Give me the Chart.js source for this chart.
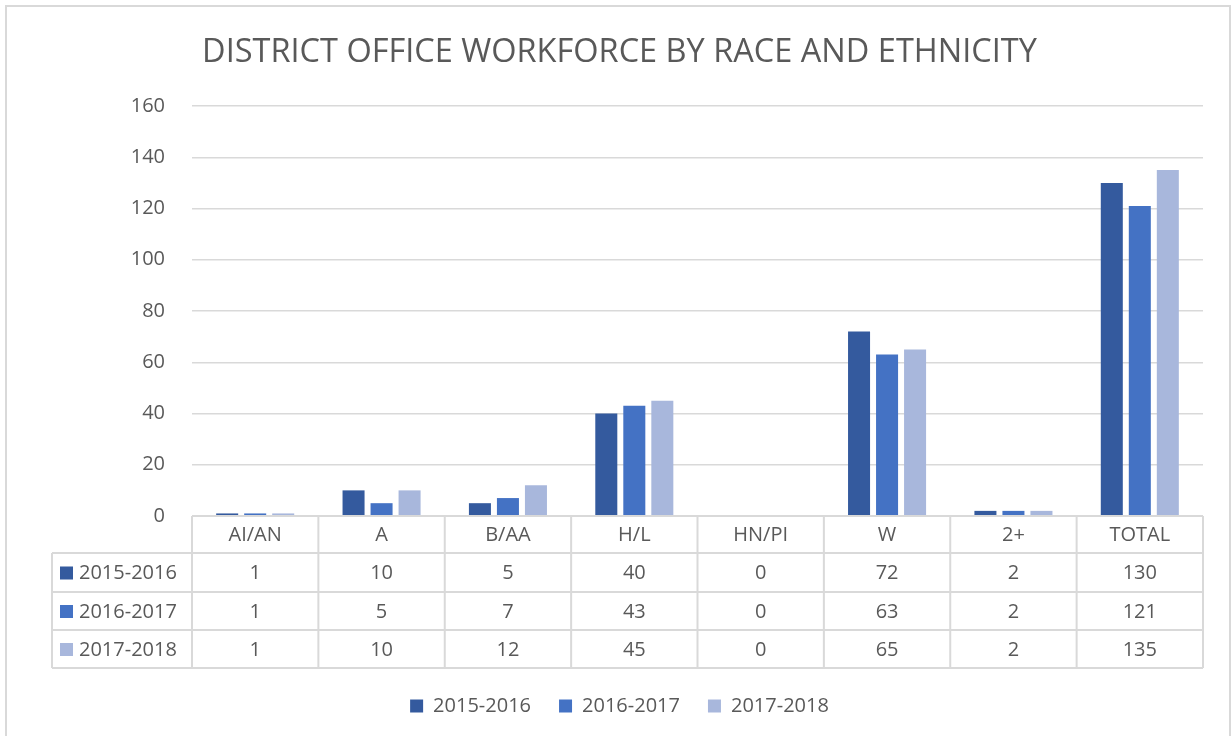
<!DOCTYPE html>
<html lang="en">
<head>
  <meta charset="UTF-8" />
  <title>District Office Workforce</title>
  <script src="https://cdn.jsdelivr.net/npm/chart.js"></script>
  <style>
    body {
      margin: 0;
      background: #ffffff;
      font-family: "Open Sans", sans-serif;
    }

    .marco {
      position: absolute;
      left: 5px;
      top: 5px;
      width: 1226px;
      height: 760px;
      border: 2px solid #d9d9d9;
      box-sizing: border-box;
    }

    #grafica {
      position: absolute;
      left: 0;
      top: 0;
    }
  </style>
</head>
<body>
  <div class="marco"></div>
  <canvas id="grafica" width="1232" height="736"></canvas>
<script>
  const categorias = ['AI/AN', 'A', 'B/AA', 'H/L', 'HN/PI', 'W', '2+', 'TOTAL'];
  const series = ['2015-2016', '2016-2017', '2017-2018'];
  const datos2015 = [1, 10, 5, 40, 0, 72, 2, 130];
  const datos2016 = [1, 5, 7, 43, 0, 63, 2, 121];
  const datos2017 = [1, 10, 12, 45, 0, 65, 2, 135];
  const colores = ['#345a9e', '#4472c4', '#a8b7dc'];

  const gris = '#595959';
  const linea = '#d9d9d9';
  const fuente = '"Open Sans", sans-serif';

  // Tabla de datos debajo del eje (como en Excel)
  const tablaDatos = {
    id: 'tablaDatos',
    afterDraw(chart) {
      const ctx = chart.ctx;
      const xs = chart.scales.x;
      const area = chart.chartArea;
      const n = categorias.length;
      const cw = (xs.right - xs.left) / n;
      const top = area.bottom;
      const filas = [top, top + 37, top + 76, top + 114, top + 152];
      const izq = 52;
      const der = xs.right;
      const bordes = [];
      for (let i = 0; i < n; i++) bordes.push(xs.getPixelForValue(i) - cw / 2);
      bordes.push(der);

      ctx.save();
      ctx.strokeStyle = linea;
      ctx.lineWidth = 2;
      ctx.beginPath();
      ctx.moveTo(bordes[0], filas[0]);
      ctx.lineTo(der, filas[0]);
      for (let r = 1; r < filas.length; r++) {
        ctx.moveTo(izq, filas[r]);
        ctx.lineTo(der, filas[r]);
      }
      ctx.moveTo(izq, filas[1]);
      ctx.lineTo(izq, filas[4]);
      bordes.forEach(b => {
        ctx.moveTo(b, filas[0]);
        ctx.lineTo(b, filas[4]);
      });
      ctx.stroke();

      ctx.fillStyle = gris;
      ctx.font = '20px ' + fuente;
      ctx.textBaseline = 'middle';
      ctx.textAlign = 'center';
      categorias.forEach((c, i) => {
        ctx.fillText(c, xs.getPixelForValue(i), (filas[0] + filas[1]) / 2 + 1);
      });

      chart.data.datasets.forEach((ds, r) => {
        const yc = (filas[r + 1] + filas[r + 2]) / 2 + 1;
        ctx.fillStyle = ds.backgroundColor;
        ctx.fillRect(60, yc - 7, 13, 13);
        ctx.fillStyle = gris;
        ctx.textAlign = 'left';
        ctx.fillText(ds.label, 79, yc);
        ctx.textAlign = 'center';
        ds.data.forEach((v, i) => {
          ctx.fillText(String(v), xs.getPixelForValue(i), yc);
        });
      });
      ctx.restore();
    }
  };

  const ctx = document.getElementById('grafica').getContext('2d');
  new Chart(ctx, {
    type: 'bar',
    data: {
      labels: categorias,
      datasets: [
        { label: series[0], data: datos2015, backgroundColor: colores[0] },
        { label: series[1], data: datos2016, backgroundColor: colores[1] },
        { label: series[2], data: datos2017, backgroundColor: colores[2] }
      ]
    },
    options: {
      responsive: false,
      animation: false,
      layout: {
        padding: { left: 36, right: 29, top: 0, bottom: 10 }
      },
      datasets: {
        bar: { categoryPercentage: 0.665, barPercentage: 0.786 }
      },
      plugins: {
        title: {
          display: true,
          text: 'DISTRICT OFFICE WORKFORCE BY RACE AND ETHNICITY',
          color: gris,
          font: { family: fuente, size: 32.5, weight: 'normal', lineHeight: 1.2 },
          padding: { top: 33, bottom: 34 }
        },
        legend: {
          position: 'bottom',
          labels: {
            color: gris,
            font: { family: fuente, size: 20 },
            boxWidth: 13,
            boxHeight: 13,
            padding: 28
          }
        },
        tooltip: { enabled: false }
      },
      scales: {
        x: {
          grid: { display: false },
          border: { display: false },
          ticks: { display: false },
          afterFit(scale) { scale.height = 152; }
        },
        y: {
          min: 0,
          max: 160,
          ticks: {
            stepSize: 20,
            color: gris,
            padding: 27,
            font: { family: fuente, size: 20 }
          },
          grid: { color: linea, lineWidth: 1.5, drawTicks: false },
          border: { display: false },
          afterFit(scale) { scale.width = 156; }
        }
      }
    },
    plugins: [tablaDatos]
  });
</script>
</body>
</html>
